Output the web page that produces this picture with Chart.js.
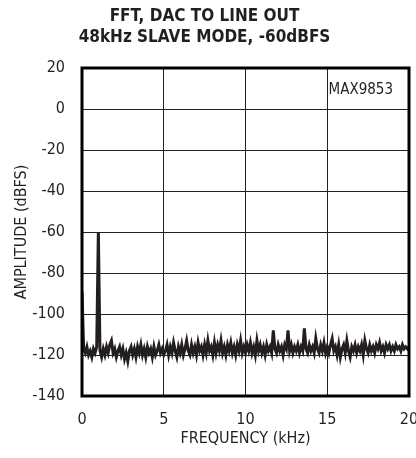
<!DOCTYPE html>
<html>
<head>
<meta charset="utf-8">
<script src="https://cdn.jsdelivr.net/npm/chart.js@4.4.1/dist/chart.umd.min.js"></script>
<style>
  html, body { margin: 0; padding: 0; background: #fff; }
  #wrap { width: 416px; height: 458px; position: relative; }
</style>
</head>
<body>
<div id="wrap"><canvas id="fft"></canvas></div>
<script>
// FFT bins, 0.1 kHz apart, 0..20 kHz (amplitudes in dBFS)
const binStepKHz = 0.1;
const amplitude = [
  -89, -117, -119, -116, -120, -118, -121, -117, -119, -116,
  -60, -118, -121, -117, -120, -116, -119, -115, -113, -119,
  -117, -121, -118, -116, -120, -117, -122, -119, -123, -118,
  -116, -120, -117, -121, -116, -119, -115, -120, -117, -121,
  -116, -119, -117, -121, -116, -120, -118, -115, -119, -117,
  -120, -118, -115, -120, -116, -119, -114, -118, -121, -116,
  -119, -115, -120, -117, -113, -118, -120, -115, -119, -116,
  -120, -114, -118, -116, -120, -115, -119, -113, -118, -116,
  -120, -114, -119, -115, -118, -113, -119, -116, -120, -115,
  -118, -114, -119, -116, -120, -115, -118, -113, -119, -116,
  -119, -115, -118, -114, -119, -116, -120, -113, -118, -115,
  -119, -116, -120, -115, -118, -116, -119, -108, -117, -119,
  -115, -118, -116, -120, -115, -117, -108, -118, -115, -119,
  -116, -118, -115, -119, -116, -118, -107, -117, -119, -115,
  -118, -116, -119, -112, -117, -119, -115, -118, -114, -119,
  -116, -119, -115, -112, -118, -116, -120, -115, -121, -117,
  -115, -119, -113, -118, -121, -116, -118, -115, -119, -116,
  -118, -115, -120, -113, -117, -119, -115, -118, -116, -119,
  -115, -117, -114, -118, -116, -119, -115, -117, -115, -118,
  -116, -118, -115, -117, -116, -118, -115, -117, -116, -117,
  -116
];
const xTicks = [0, 5, 10, 15, 20];
const yTicks = [-140, -120, -100, -80, -60, -40, -20, 0, 20];
const titleLines = ['FFT, DAC TO LINE OUT', '48kHz SLAVE MODE, -60dBFS'];
const partLabel = 'MAX9853';

const ink = '#231f20';
const narrow = "'Liberation Sans Narrow', 'DejaVu Sans Condensed', 'Arial Narrow', sans-serif";

const points = amplitude.map((v, i) => ({ x: +(i * binStepKHz).toFixed(1), y: v }));

// outer frame + part number in the corner
const framePlugin = {
  id: 'frame',
  afterDatasetsDraw(chart) {
    const a = chart.chartArea, ctx = chart.ctx;
    ctx.save();
    ctx.strokeStyle = '#000';
    ctx.lineWidth = 3;
    ctx.strokeRect(a.left, a.top, a.right - a.left, a.bottom - a.top);
    ctx.fillStyle = ink;
    ctx.font = '15px ' + narrow;
    ctx.textAlign = 'right';
    ctx.textBaseline = 'middle';
    ctx.fillText(partLabel, a.right - 16, a.top + 22);
    ctx.restore();
  }
};

new Chart(document.getElementById('fft'), {
  type: 'scatter',
  data: {
    datasets: [{
      data: points,
      showLine: true,
      borderColor: ink,
      borderWidth: 3,
      pointRadius: 0,
      tension: 0
    }]
  },
  options: {
    responsive: true,
    maintainAspectRatio: false,
    animation: false,
    layout: { padding: { left: 0, right: 7, top: 0, bottom: 8 } },
    plugins: {
      legend: { display: false },
      tooltip: { enabled: false },
      title: {
        display: true,
        text: titleLines,
        color: ink,
        font: { family: narrow, size: 17, weight: 'bold', lineHeight: 1.25 },
        padding: { top: 6, bottom: 19.5 }
      }
    },
    scales: {
      x: {
        type: 'linear',
        min: 0, max: 20,
        afterBuildTicks(s) { s.ticks = xTicks.map(v => ({ value: v })); },
        afterFit(s) { s.height = 54; s.paddingLeft = 0; s.paddingRight = 0; },
        ticks: { color: ink, font: { family: narrow, size: 16 }, padding: 14, maxRotation: 0 },
        grid: { color: ink, lineWidth: 1, drawTicks: false },
        border: { display: false },
        title: { display: true, text: 'FREQUENCY (kHz)', color: ink, font: { family: narrow, size: 16 }, padding: { top: 0, bottom: 2 } }
      },
      y: {
        type: 'linear',
        min: -140, max: 20,
        afterBuildTicks(s) { s.ticks = yTicks.map(v => ({ value: v })); },
        afterFit(s) { s.width = 82; s.paddingTop = 0; s.paddingBottom = 0; },
        ticks: { color: ink, font: { family: narrow, size: 16 }, padding: 17 },
        grid: { color: ink, lineWidth: 1, drawTicks: false },
        border: { display: false },
        title: { display: true, text: 'AMPLITUDE (dBFS)', color: ink, font: { family: narrow, size: 16 }, padding: { top: 12, bottom: 0 } }
      }
    }
  },
  plugins: [framePlugin]
});
</script>
</body>
</html>
